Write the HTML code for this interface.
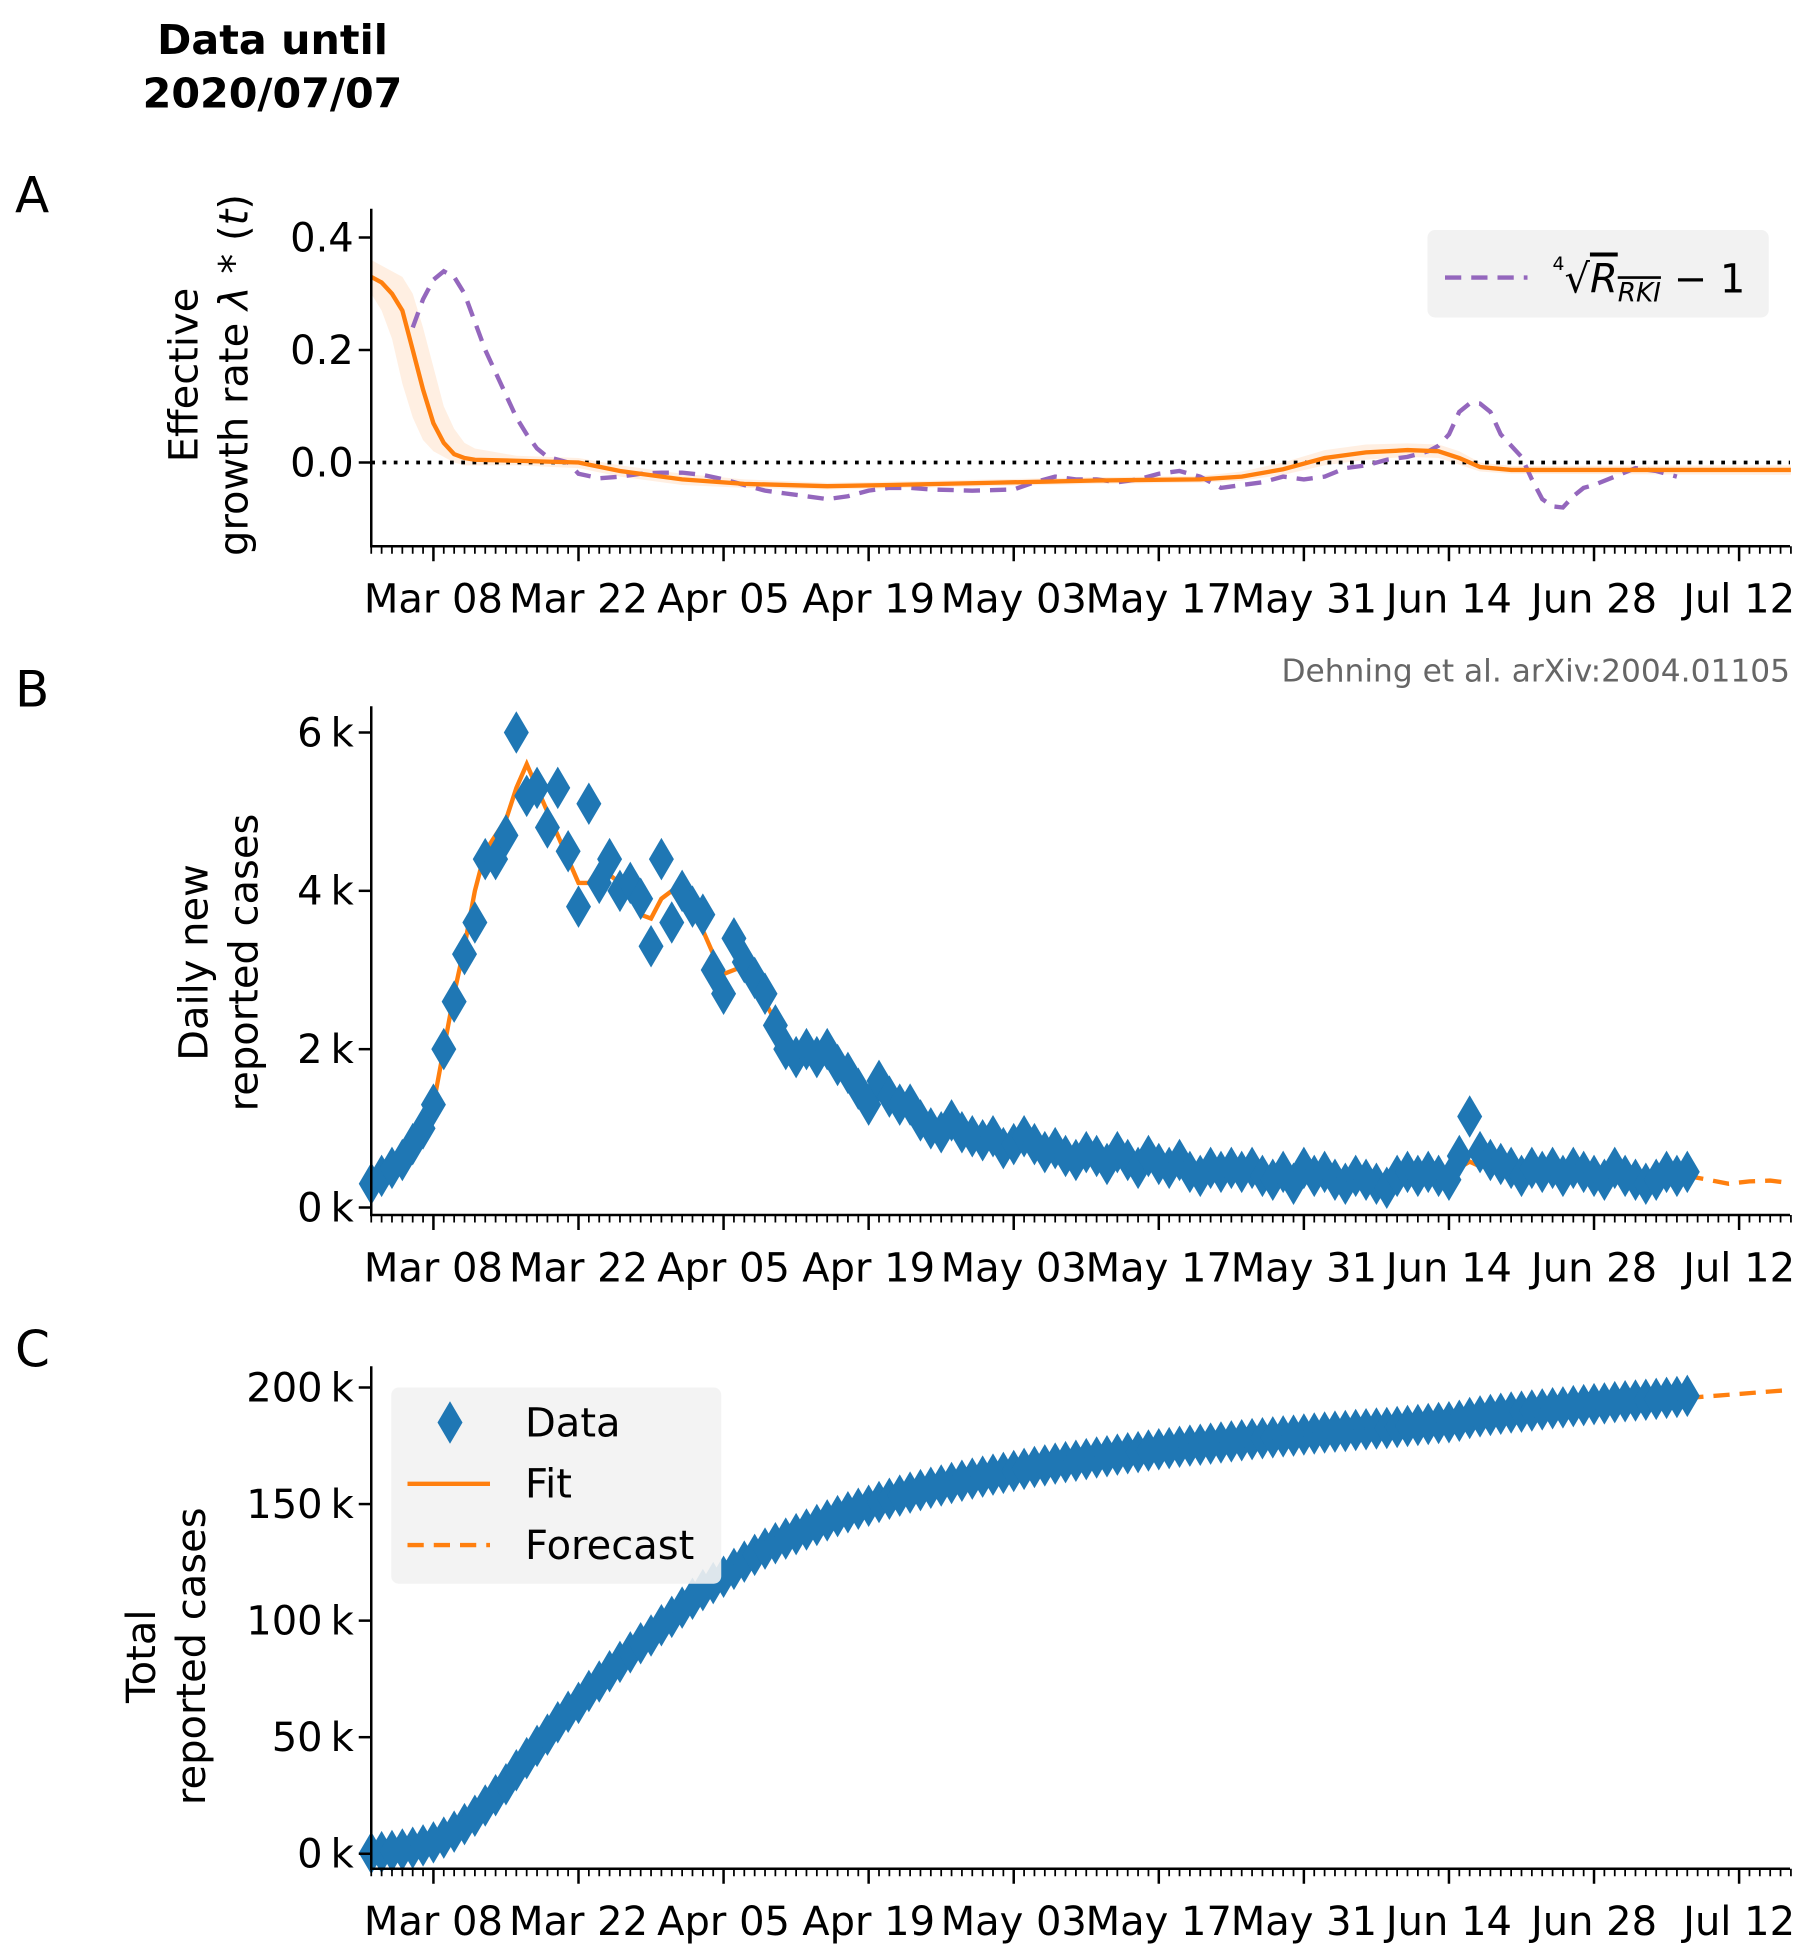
<!DOCTYPE html>
<html><head><meta charset="utf-8">
<style>
html,body{margin:0;padding:0;background:#fff;}
svg{display:block;font-family:"DejaVu Sans","Liberation Sans",sans-serif;}
</style></head>
<body>
<svg id="fig" width="1805" height="1952" viewBox="0 0 1444 1561.6" xmlns="http://www.w3.org/2000/svg">
<text x="218" y="43" font-size="33" font-weight="bold" text-anchor="middle">Data until</text>
<text x="218" y="86" font-size="33" font-weight="bold" text-anchor="middle">2020/07/07</text>
<text x="12" y="170" font-size="40">A</text>
<text x="12" y="565" font-size="40">B</text>
<text x="12" y="1093" font-size="40">C</text>
<text x="1432" y="545" font-size="25" fill="#666" text-anchor="end">Dehning et al. arXiv:2004.01105</text>
<g id="gA"></g>
<g id="gB"></g>
<g id="gC"></g>
</svg>
<script>
// ---- data (day index 0 = Mar 02) ----
const dateLabels = ["Mar 08","Mar 22","Apr 05","Apr 19","May 03","May 17","May 31","Jun 14","Jun 28","Jul 12"];
const dateLabelDays = [6,20,34,48,62,76,90,104,118,132];
const dailyCases = [0.3,0.4,0.5,0.6,0.8,1.0,1.3,2.0,2.6,3.2,3.6,4.4,4.4,4.7,6.0,5.2,5.3,4.8,5.3,4.5,3.8,5.1,4.1,4.4,4.0,4.1,3.9,3.3,4.4,3.6,4.0,3.8,3.7,3.0,2.7,3.4,3.1,2.9,2.7,2.3,2.0,1.9,2.0,1.9,2.0,1.8,1.7,1.5,1.3,1.6,1.4,1.3,1.3,1.1,1.0,0.95,1.1,0.95,0.9,0.85,0.9,0.75,0.8,0.9,0.8,0.7,0.75,0.65,0.6,0.7,0.65,0.55,0.7,0.6,0.5,0.65,0.55,0.5,0.6,0.45,0.4,0.5,0.45,0.5,0.45,0.5,0.4,0.35,0.45,0.3,0.5,0.4,0.45,0.35,0.3,0.4,0.35,0.3,0.25,0.4,0.45,0.4,0.45,0.4,0.35,0.65,1.15,0.7,0.6,0.55,0.5,0.4,0.5,0.45,0.5,0.4,0.5,0.45,0.4,0.35,0.5,0.4,0.35,0.3,0.35,0.45,0.4,0.45];
const fitDays = [0,2,4,6,7,8,9,10,11,12,13,14,15,16,17,18,19,20,21,22,23,24,25,26,27,28,29,30,31,32,33,34,35,36,38,40,44,48,52,56,60,66,72,80,90,100,103,105,106,107,109,114,120,127];
const fitVals = [0.3,0.45,0.75,1.3,2.0,2.7,3.3,4.0,4.5,4.7,4.9,5.3,5.6,5.3,5.0,4.7,4.4,4.1,4.1,4.3,4.2,4.1,3.95,3.7,3.65,3.9,4.0,3.8,3.7,3.5,3.2,2.95,3.0,3.05,2.6,2.1,1.85,1.5,1.2,0.95,0.85,0.7,0.6,0.5,0.42,0.38,0.4,0.5,0.58,0.52,0.5,0.45,0.42,0.4];
const forecastDays = [127,129,131,133,135,137];
const forecastVals = [0.4,0.35,0.3,0.33,0.34,0.31];
const totalForecast = [195.5,196.2,196.9,197.6,198.3,199.0];
const lambdaDays = [0,1,2,3,4,5,6,7,8,9,10,14,20,24,30,36,44,50,60,70,80,84,88,92,96,100,103,105,107,110,137];
const lambdaVals = [0.33,0.32,0.30,0.27,0.2,0.13,0.07,0.035,0.015,0.008,0.005,0.003,0.0,-0.015,-0.03,-0.038,-0.042,-0.04,-0.036,-0.032,-0.03,-0.025,-0.012,0.008,0.018,0.022,0.02,0.008,-0.008,-0.013,-0.013];
const lambdaLo = [0.30,0.27,0.22,0.14,0.08,0.04,0.02,0.01,0.0,-0.005,-0.005,-0.005,-0.01,-0.025,-0.04,-0.045,-0.048,-0.046,-0.042,-0.038,-0.036,-0.032,-0.022,-0.005,0.005,0.01,0.008,-0.004,-0.016,-0.02,-0.022];
const lambdaHi = [0.36,0.35,0.34,0.33,0.30,0.24,0.17,0.10,0.06,0.035,0.025,0.012,0.008,-0.005,-0.02,-0.03,-0.036,-0.034,-0.03,-0.026,-0.024,-0.016,0.0,0.022,0.032,0.034,0.032,0.02,0.0,-0.006,-0.005];
const rkiDays = [4,5,6,7,8,9,10,11,12,13,14,15,16,17,19,20,22,24,26,28,30,32,34,36,38,40,42,44,46,48,50,52,54,58,62,64,66,68,70,72,74,76,78,80,82,84,86,88,90,92,94,96,98,100,102,103,104,105,106,107,108,109,110,111,112,113,114,115,116,117,118,120,122,124,126];
const rkiVals = [0.24,0.29,0.325,0.34,0.33,0.3,0.25,0.2,0.16,0.12,0.08,0.05,0.025,0.01,0.0,-0.02,-0.028,-0.025,-0.02,-0.018,-0.018,-0.022,-0.03,-0.04,-0.05,-0.055,-0.06,-0.065,-0.06,-0.05,-0.045,-0.045,-0.048,-0.05,-0.048,-0.035,-0.025,-0.03,-0.03,-0.035,-0.03,-0.02,-0.015,-0.025,-0.045,-0.04,-0.035,-0.025,-0.03,-0.025,-0.01,-0.005,0.005,0.01,0.02,0.03,0.05,0.09,0.105,0.105,0.09,0.05,0.03,0.01,-0.03,-0.065,-0.078,-0.08,-0.06,-0.045,-0.04,-0.025,-0.01,-0.015,-0.025];
const aTicks = [0.4,0.2,0.0];
const bTicks = [0,2,4,6];
const cTicks = [0,50,100,150,200];

const NS="http://www.w3.org/2000/svg";
function mk(parent,tag,attrs){const e=document.createElementNS(NS,tag);for(const k in attrs)e.setAttribute(k,attrs[k]);parent.appendChild(e);return e;}
const X0=297, PXD=8.29, XEND=1432;
const xs=d=>X0+d*PXD;
function lin(v0,p0,v1,p1){return v=>p0+(v-v0)*(p1-p0)/(v1-v0);}
const yA=lin(0,370,0.4,190), yB=lin(0,966,6,586), yC=lin(0,1483,200,1110);
const FS=32;

function axes(g,top,bottom,yticks,ys,fmt,name){
  let e=mk(g,'line',{x1:X0,y1:top,x2:X0,y2:bottom,stroke:'#000','stroke-width':2});
  
  
  e=mk(g,'line',{x1:X0-1,y1:bottom,x2:XEND,y2:bottom,stroke:'#000','stroke-width':2});
  
  
  for(let d=0;d<=137;d++){
    const major=dateLabelDays.includes(d);
    e=mk(g,'line',{x1:xs(d),y1:bottom,x2:xs(d),y2:bottom+(major?12:6),stroke:'#000','stroke-width':major?2:1.4});
    
    
  }
  dateLabels.forEach((l,i)=>{
    const t=mk(g,'text',{x:xs(dateLabelDays[i]),y:bottom+53,'font-size':FS,'text-anchor':'middle'});
    t.textContent=l;
    
    
  });
  yticks.forEach(v=>{
    e=mk(g,'line',{x1:X0-10,y1:ys(v),x2:X0,y2:ys(v),stroke:'#000','stroke-width':2});
    
    
    const t=mk(g,'text',{x:X0-14,y:ys(v)+11,'font-size':FS,'text-anchor':'end'});
    t.textContent=fmt(v);
    
    
  });
}
function pathOf(days,vals,ys){return days.map((d,i)=>(i?'L':'M')+xs(d).toFixed(1)+','+ys(vals[i]).toFixed(1)).join('');}
function diamond(g,x,y){
  const p=mk(g,'path',{d:`M${x},${y-17}L${x+10},${y}L${x},${y+17}L${x-10},${y}Z`,fill:'#1f77b4'});
  
  
}
function ylabel(g,x,lines,cy){
  const t=mk(g,'text',{transform:`translate(${x},${cy}) rotate(-90)`,'font-size':FS,'text-anchor':'middle'});
  lines.forEach((l,i)=>{const s=mk(t,'tspan',{x:0,dy:i?40:0});s.innerHTML=l;});
  return t;
}

// ---- Panel A ----
const gA=document.getElementById('gA');
let band=mk(gA,'path',{d:pathOf(lambdaDays,lambdaHi,yA)+pathOf(lambdaDays.slice().reverse(),lambdaLo.slice().reverse(),yA).replace('M','L')+'Z',fill:'#ff7f0e','fill-opacity':0.12});


let zl=mk(gA,'line',{x1:X0,y1:yA(0),x2:XEND,y2:yA(0),stroke:'#000','stroke-width':3,'stroke-dasharray':'3,6'});


let rk=mk(gA,'path',{d:pathOf(rkiDays,rkiVals,yA),fill:'none',stroke:'#9467bd','stroke-width':3.5,'stroke-dasharray':'13,8'});


let la=mk(gA,'path',{d:pathOf(lambdaDays,lambdaVals,yA),fill:'none',stroke:'#ff7f0e','stroke-width':3.5});


axes(gA,167,437,aTicks,yA,v=>v.toFixed(1),'panel-a');
let yl=ylabel(gA,158,['Effective','growth rate <tspan font-style="italic">λ</tspan> * (<tspan font-style="italic">t</tspan>)'],300);


const legA=mk(gA,'g',{});


mk(legA,'rect',{x:1142,y:184,width:273,height:70,rx:6,fill:'#f2f2f2'});
mk(legA,'line',{x1:1156,y1:222,x2:1222,y2:222,stroke:'#9467bd','stroke-width':3.5,'stroke-dasharray':'13,8'});
let lt=mk(legA,'text',{x:1242,y:234,'font-size':32});
lt.innerHTML='<tspan font-size="15" dy="-18">4</tspan><tspan dy="18">√</tspan><tspan font-style="italic" text-decoration="overline">R<tspan font-size="21" dy="7">RKI</tspan></tspan><tspan dy="-7"> − 1</tspan>';



// ---- Panel B ----
const gB=document.getElementById('gB');
let fl=mk(gB,'path',{d:pathOf(fitDays,fitVals,yB),fill:'none',stroke:'#ff7f0e','stroke-width':3.5});


let fc=mk(gB,'path',{d:pathOf(forecastDays,forecastVals,yB),fill:'none',stroke:'#ff7f0e','stroke-width':3.5,'stroke-dasharray':'13,8'});


dailyCases.forEach((v,d)=>diamond(gB,xs(d),yB(v)));
axes(gB,565,972,bTicks,yB,v=>v+'\u2009k','panel-b');
yl=ylabel(gB,166,['Daily new','reported cases'],770);



// ---- Panel C ----
const gC=document.getElementById('gC');
let fcC=mk(gC,'path',{d:pathOf(forecastDays,totalForecast,yC),fill:'none',stroke:'#ff7f0e','stroke-width':3.5,'stroke-dasharray':'13,8'});


let cum=0;
dailyCases.forEach((v,d)=>{cum+=v;diamond(gC,xs(d),yC(cum));});
axes(gC,1093,1495,cTicks,yC,v=>v+'\u2009k','panel-c');
yl=ylabel(gC,124,['Total','reported cases'],1325);


const legC=mk(gC,'g',{});


mk(legC,'rect',{x:313,y:1110,width:264,height:157,rx:6,fill:'#f2f2f2','fill-opacity':0.9});
diamond(legC,360,1138);
mk(legC,'line',{x1:326,y1:1187,x2:392,y2:1187,stroke:'#ff7f0e','stroke-width':3.5});
mk(legC,'line',{x1:326,y1:1236,x2:392,y2:1236,stroke:'#ff7f0e','stroke-width':3.5,'stroke-dasharray':'13,8'});
[['Data',1149],['Fit',1198],['Forecast',1247]].forEach(([s,y])=>{
  const t=mk(legC,'text',{x:420,y:y,'font-size':FS});
  t.textContent=s;
  
  
});
</script>
</body></html>
